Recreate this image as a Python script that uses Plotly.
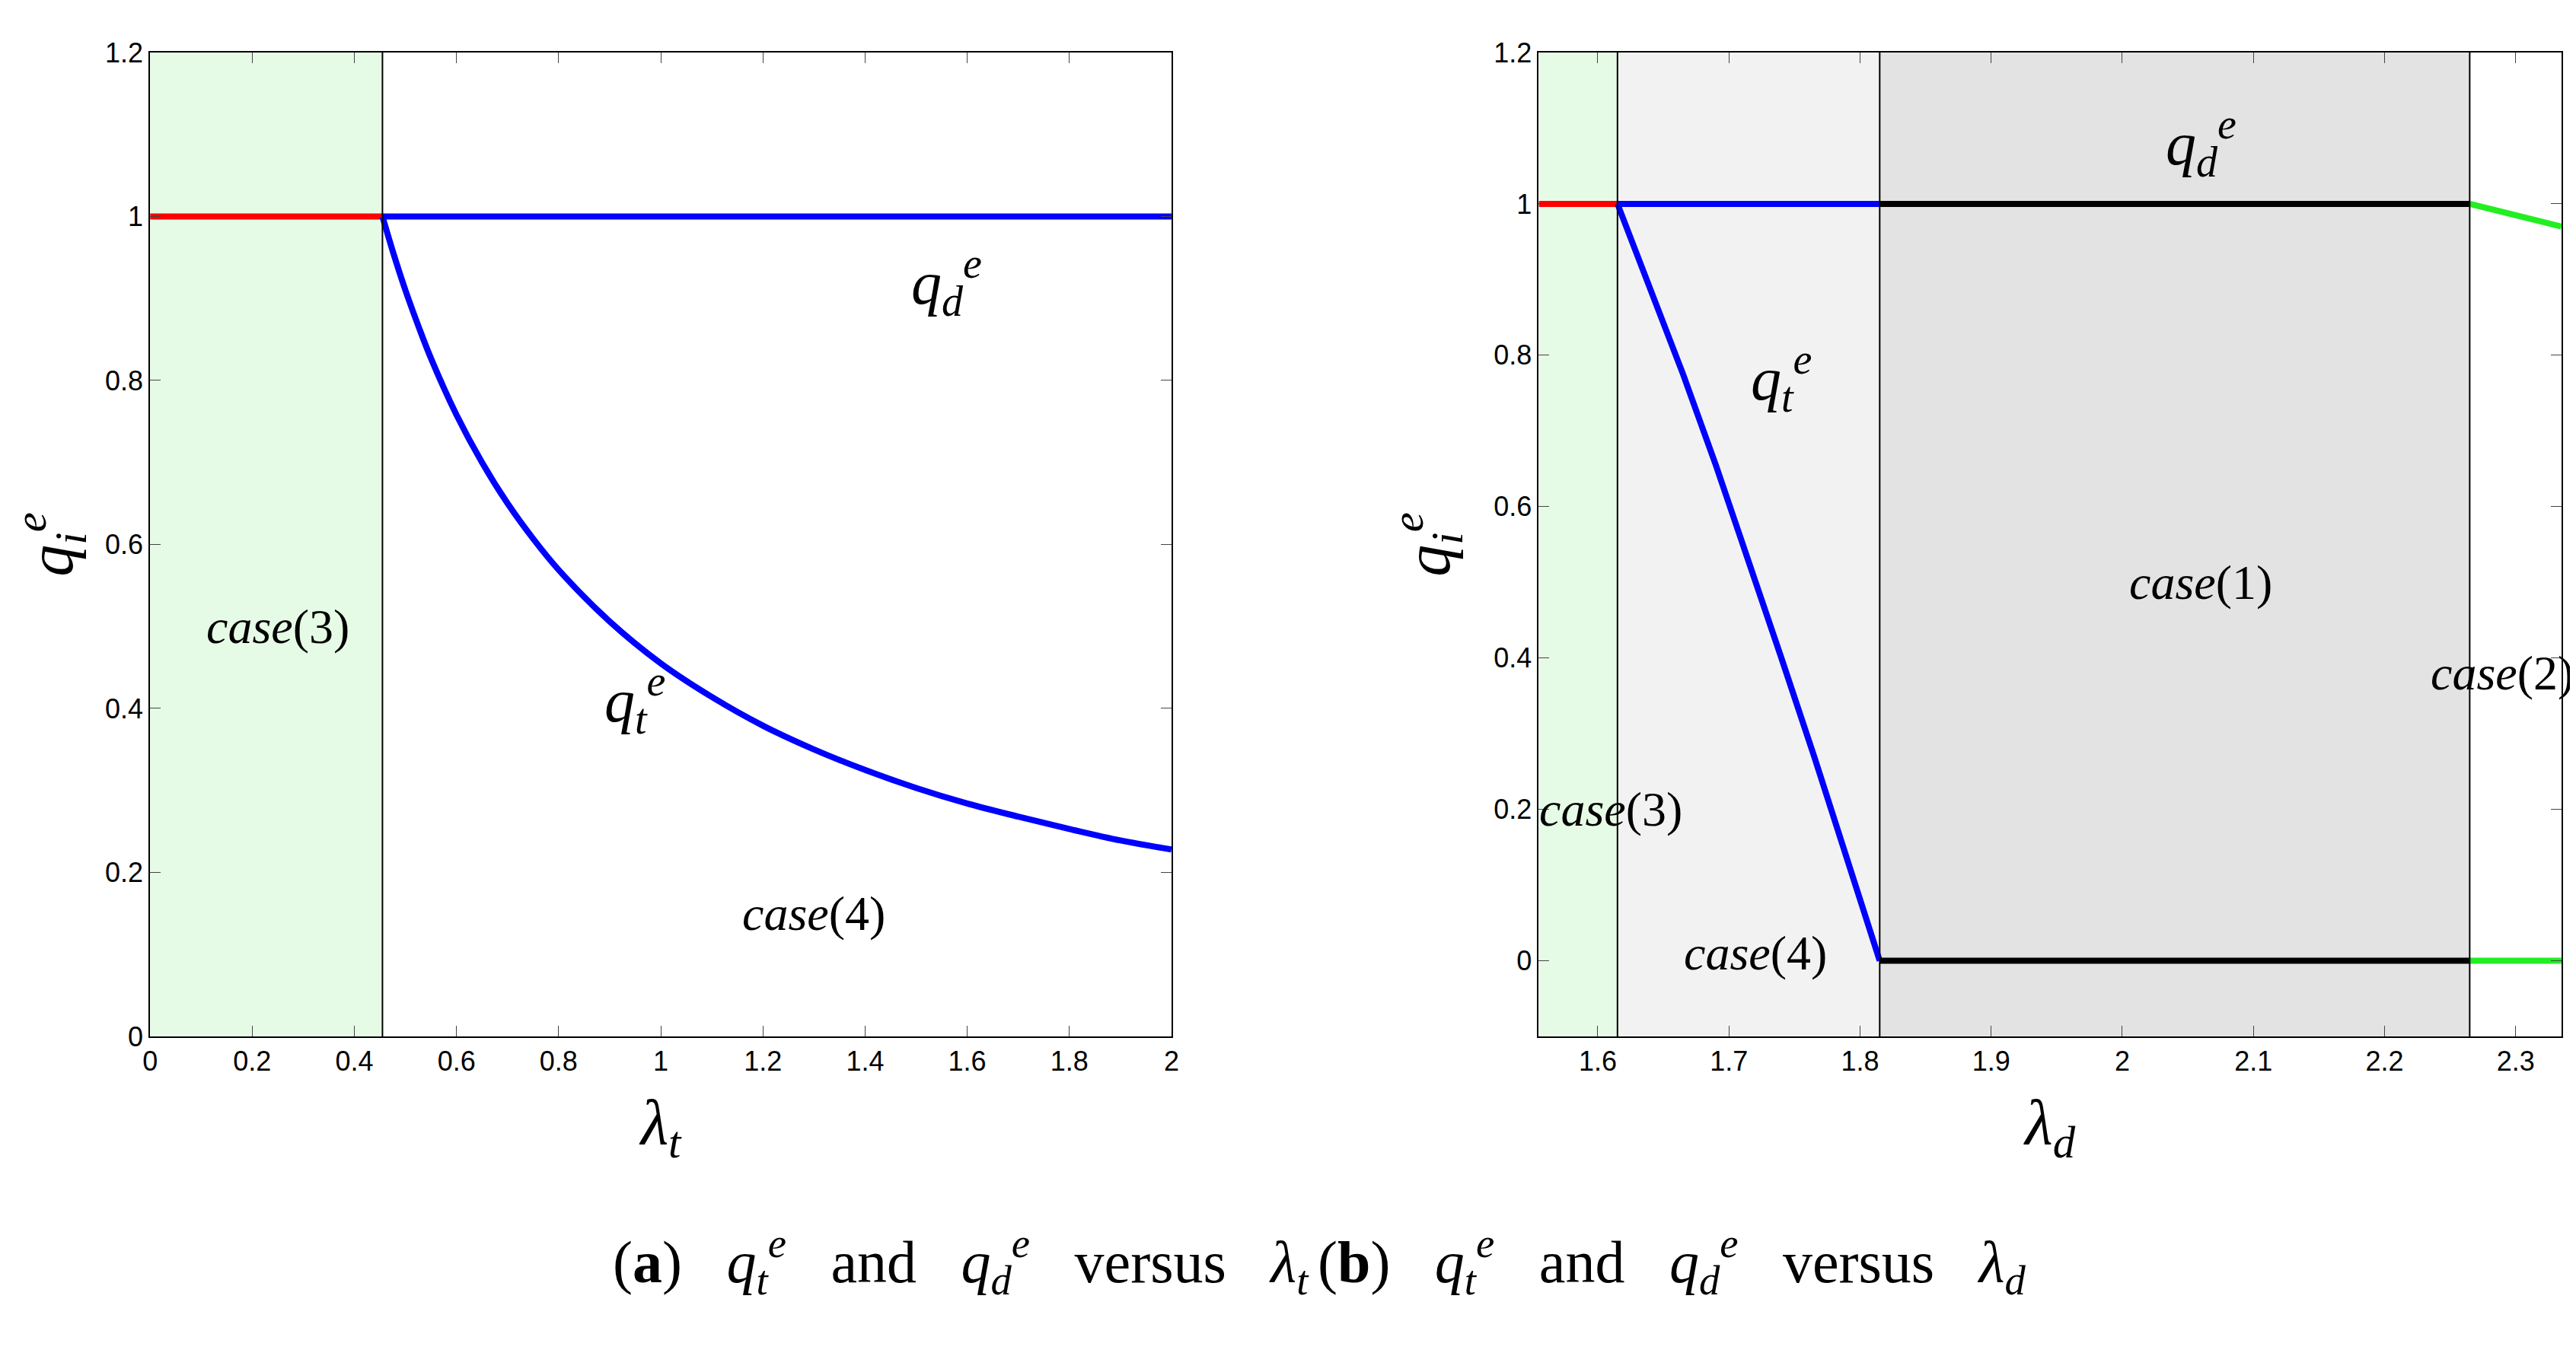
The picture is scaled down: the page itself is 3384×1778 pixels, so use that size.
import plotly.graph_objects as go

# panel (a)
a_qt_x = [0.455, 0.475, 0.5, 0.525, 0.55, 0.6, 0.65, 0.7, 0.75, 0.8, 0.9, 1.0, 1.1, 1.2, 1.3, 1.4, 1.5, 1.6, 1.7, 1.8, 1.9, 2.0]
a_qt_y = [1.0, 0.958, 0.91, 0.867, 0.827, 0.758, 0.7, 0.65, 0.607, 0.569, 0.506, 0.455, 0.414, 0.379, 0.35, 0.325, 0.303, 0.284, 0.268, 0.253, 0.239, 0.228]
a_red_x = [0, 0.455]
a_blue_x = [0.455, 2.0]
a_split = 0.455

# panel (b)
b_qt_x = [1.615, 1.64, 1.665, 1.69, 1.715, 1.74, 1.765, 1.79, 1.815]
b_qt_y = [1.0, 0.89, 0.775, 0.655, 0.53, 0.4, 0.27, 0.135, 0.0]
b_bounds = [1.555, 1.615, 1.815, 2.265, 2.335]
b_green_top = [1.0, 0.97]

fig = go.Figure()
L = dict(width=8)
fig.add_trace(go.Scatter(x=a_red_x, y=[1, 1], mode="lines", line=dict(color="red", **L), xaxis="x", yaxis="y"))
fig.add_trace(go.Scatter(x=a_blue_x, y=[1, 1], mode="lines", line=dict(color="blue", **L), xaxis="x", yaxis="y"))
fig.add_trace(go.Scatter(x=a_qt_x, y=a_qt_y, mode="lines", line=dict(color="blue", shape="spline", **L), xaxis="x", yaxis="y"))

fig.add_trace(go.Scatter(x=b_bounds[0:2], y=[1, 1], mode="lines", line=dict(color="red", **L), xaxis="x2", yaxis="y2"))
fig.add_trace(go.Scatter(x=b_bounds[1:3], y=[1, 1], mode="lines", line=dict(color="blue", **L), xaxis="x2", yaxis="y2"))
fig.add_trace(go.Scatter(x=b_qt_x, y=b_qt_y, mode="lines", line=dict(color="blue", **L), xaxis="x2", yaxis="y2"))
fig.add_trace(go.Scatter(x=b_bounds[2:4], y=[1, 1], mode="lines", line=dict(color="black", **L), xaxis="x2", yaxis="y2"))
fig.add_trace(go.Scatter(x=b_bounds[2:4], y=[0, 0], mode="lines", line=dict(color="black", **L), xaxis="x2", yaxis="y2"))
fig.add_trace(go.Scatter(x=b_bounds[3:5], y=b_green_top, mode="lines", line=dict(color="#22ee22", **L), xaxis="x2", yaxis="y2"))
fig.add_trace(go.Scatter(x=b_bounds[3:5], y=[0, 0], mode="lines", line=dict(color="#22ee22", **L), xaxis="x2", yaxis="y2"))

shapes = [
    dict(type="rect", xref="x", yref="y", x0=0, x1=a_split, y0=0, y1=1.2, fillcolor="#e6fbe6", line_width=0, layer="below"),
    dict(type="line", xref="x", yref="y", x0=a_split, x1=a_split, y0=0, y1=1.2, line=dict(color="black", width=2)),
]
fills = ["#e6fbe6", "#f2f2f2", "#e3e3e3"]
for i, c in enumerate(fills):
    shapes.append(dict(type="rect", xref="x2", yref="y2", x0=b_bounds[i], x1=b_bounds[i + 1], y0=-0.1, y1=1.2,
                       fillcolor=c, line_width=0, layer="below"))
for xb in b_bounds[1:4]:
    shapes.append(dict(type="line", xref="x2", yref="y2", x0=xb, x1=xb, y0=-0.1, y1=1.2, line=dict(color="black", width=2)))

F = "Liberation Serif"
def ann(x, y, t, xr, yr, size=64):
    return dict(x=x, y=y, xref=xr, yref=yr, text=t, showarrow=False, font=dict(family=F, size=size, color="black"))

annotations = [
    ann(0.25, 0.5, "<i>case</i>(3)", "x", "y"),
    ann(1.56, 0.92, "<i>q</i><sub><i>d</i></sub><sup><i>e</i></sup>", "x", "y", 80),
    ann(0.95, 0.41, "<i>q</i><sub><i>t</i></sub><sup><i>e</i></sup>", "x", "y", 80),
    ann(1.3, 0.15, "<i>case</i>(4)", "x", "y"),
    ann(2.06, 1.08, "<i>q</i><sub><i>d</i></sub><sup><i>e</i></sup>", "x2", "y2", 80),
    ann(1.74, 0.77, "<i>q</i><sub><i>t</i></sub><sup><i>e</i></sup>", "x2", "y2", 80),
    ann(2.06, 0.5, "<i>case</i>(1)", "x2", "y2"),
    ann(2.29, 0.38, "<i>case</i>(2)", "x2", "y2"),
    ann(1.61, 0.2, "<i>case</i>(3)", "x2", "y2"),
    ann(1.72, 0.01, "<i>case</i>(4)", "x2", "y2"),
    dict(x=0.235, y=0.04, xref="paper", yref="paper", showarrow=False, font=dict(family=F, size=78, color="black"),
         text="(<b>a</b>)   <i>q</i><sub><i>t</i></sub><sup><i>e</i></sup>   and   <i>q</i><sub><i>d</i></sub><sup><i>e</i></sup>   versus   <i>λ</i><sub><i>t</i></sub>"),
    dict(x=0.785, y=0.04, xref="paper", yref="paper", showarrow=False, font=dict(family=F, size=78, color="black"),
         text="(<b>b</b>)   <i>q</i><sub><i>t</i></sub><sup><i>e</i></sup>   and   <i>q</i><sub><i>d</i></sub><sup><i>e</i></sup>   versus   <i>λ</i><sub><i>d</i></sub>"),
]

ax = dict(showline=True, linecolor="black", linewidth=2, mirror="ticks", ticks="inside", ticklen=14,
          showgrid=False, zeroline=False, automargin=False,
          tickfont=dict(family="Liberation Sans", size=36, color="black"),
          title_font=dict(family=F, size=84, color="black"))
ydom = [0.2385, 0.9657]
fig.update_layout(
    width=3384, height=1778, paper_bgcolor="white", plot_bgcolor="white", showlegend=False,
    margin=dict(l=0, r=0, t=0, b=0), shapes=shapes, annotations=annotations,
    xaxis=dict(ax, domain=[0.0559, 0.4524], range=[0, 2], dtick=0.2, tickformat="~g", anchor="y",
               title=dict(text="<i>λ</i><sub><i>t</i></sub>", standoff=30)),
    yaxis=dict(ax, domain=ydom, range=[0, 1.2], dtick=0.2, tickformat="~g", anchor="x",
               title=dict(text="<i>q</i><sub><i>i</i></sub><sup><i>e</i></sup>", standoff=30)),
    xaxis2=dict(ax, domain=[0.595, 0.992], range=[1.555, 2.335], dtick=0.1, tick0=1.6, tickformat="~g", anchor="y2",
                title=dict(text="<i>λ</i><sub><i>d</i></sub>", standoff=30)),
    yaxis2=dict(ax, domain=ydom, range=[-0.1, 1.2], dtick=0.2, tickformat="~g", anchor="x2",
                title=dict(text="<i>q</i><sub><i>i</i></sub><sup><i>e</i></sup>", standoff=30)),
)
fig.write_html("out.html")
